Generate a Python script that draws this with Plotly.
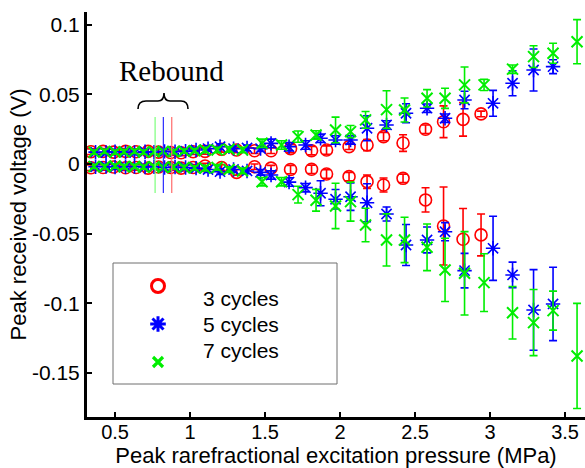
import plotly.graph_objects as go

# ---------------- data ----------------
red_p = [0.34, 0.42, 0.49, 0.57, 0.64, 0.72, 0.79, 0.87, 0.94, 1.02, 1.10, 1.21, 1.31,
         1.43, 1.54, 1.67, 1.81, 1.91, 2.06, 2.18, 2.29, 2.42, 2.57, 2.69, 2.82, 2.94]
red_up = [0.0088, 0.0090, 0.0085, 0.0090, 0.0088, 0.0090, 0.0085, 0.0082, 0.0080, 0.0088,
          0.0090, 0.0105, 0.0100, 0.0095, 0.0095, 0.0110, 0.0095, 0.0100, 0.0124, 0.0136,
          0.0196, 0.0150, 0.0249, 0.0303, 0.0320, 0.0359]
red_up_err = [0.002, 0.002, 0.002, 0.002, 0.002, 0.002, 0.002, 0.002, 0.002, 0.002,
              0.002, 0.002, 0.002, 0.002, 0.002, 0.003, 0.003, 0.003, 0.002, 0.004,
              0.003, 0.006, 0.003, 0.0114, 0.012, 0.002]
red_lo = [-0.0027, -0.0025, -0.0022, -0.0027, -0.0025, -0.0030, -0.0022, -0.0025, -0.0030,
          -0.0025, -0.0015, -0.0025, -0.0060, -0.0020, -0.0030, -0.0040, -0.0038, -0.0072,
          -0.0091, -0.0127, -0.0151, -0.0103, -0.0258, -0.0445, -0.0540, -0.0509]
red_lo_err = [0.002, 0.002, 0.002, 0.002, 0.002, 0.002, 0.002, 0.002, 0.002, 0.002,
              0.002, 0.002, 0.002, 0.002, 0.002, 0.003, 0.003, 0.003, 0.003, 0.0048,
              0.005, 0.003, 0.0087, 0.028, 0.022, 0.015]

blue_p = [0.37, 0.44, 0.50, 0.57, 0.63, 0.70, 0.76, 0.83, 0.90, 0.97, 1.04, 1.12, 1.20,
          1.29, 1.38, 1.47, 1.54, 1.66, 1.77, 1.87, 1.97, 2.07, 2.18, 2.31, 2.44, 2.58,
          2.70, 2.83, 3.02, 3.15, 3.29, 3.42]
blue_up = [0.0085, 0.0082, 0.0088, 0.0085, 0.0082, 0.0088, 0.0085, 0.0090, 0.0088, 0.0092,
           0.0100, 0.0110, 0.0124, 0.0110, 0.0115, 0.0110, 0.0148, 0.0124, 0.0136, 0.0184,
           0.0172, 0.0172, 0.0256, 0.0280, 0.0364, 0.0400, 0.0328, 0.0459, 0.0435, 0.0579,
           0.0674, 0.0698]
blue_up_err = [0.0015, 0.0015, 0.0015, 0.0015, 0.0015, 0.0015, 0.0015, 0.0015, 0.0015,
               0.0015, 0.0015, 0.002, 0.002, 0.002, 0.002, 0.002, 0.003, 0.003, 0.003,
               0.003, 0.003, 0.003, 0.009, 0.003, 0.0068, 0.003, 0.003, 0.0063, 0.0093,
               0.009, 0.0151, 0.005]
blue_lo = [-0.0020, -0.0018, -0.0022, -0.0020, -0.0018, -0.0022, -0.0020, -0.0025, -0.0022,
           -0.0025, -0.0030, -0.0040, -0.0055, -0.0040, -0.0050, -0.0060, -0.0079, -0.0130,
           -0.0170, -0.0210, -0.0253, -0.0235, -0.0278, -0.0359, -0.0581, -0.0545, -0.0486,
           -0.0765, -0.0605, -0.0796, -0.1047, -0.1004]
blue_lo_err = [0.0015, 0.0015, 0.0015, 0.0015, 0.0015, 0.0015, 0.0015, 0.0015, 0.0015,
               0.0015, 0.0015, 0.002, 0.002, 0.002, 0.002, 0.002, 0.003, 0.003, 0.003,
               0.009, 0.007, 0.0098, 0.0136, 0.005, 0.0147, 0.0093, 0.0065, 0.0124, 0.023,
               0.0092, 0.0289, 0.0263]

green_p = [0.36, 0.43, 0.50, 0.56, 0.63, 0.69, 0.76, 0.82, 0.89, 0.96, 1.03, 1.10, 1.18,
           1.26, 1.35, 1.48, 1.61, 1.72, 1.84, 1.97, 2.07, 2.17, 2.31, 2.43, 2.58, 2.70,
           2.83, 2.96, 3.15, 3.29, 3.42, 3.58]
green_up = [0.0085, 0.0090, 0.0085, 0.0088, 0.0090, 0.0085, 0.0088, 0.0090, 0.0088, 0.0092,
            0.0095, 0.0100, 0.0100, 0.0105, 0.0100, 0.0148, 0.0136, 0.0196, 0.0208, 0.0244,
            0.0232, 0.0316, 0.0390, 0.0387, 0.0471, 0.0471, 0.0567, 0.0567, 0.0680, 0.0770,
            0.0794, 0.0877]
green_up_err = [0.0015, 0.0015, 0.0015, 0.0015, 0.0015, 0.0015, 0.0015, 0.0015, 0.0015,
                0.0015, 0.0015, 0.002, 0.002, 0.002, 0.002, 0.003, 0.003, 0.004, 0.003,
                0.0092, 0.0044, 0.006, 0.0135, 0.0086, 0.0062, 0.0072, 0.0129, 0.004,
                0.003, 0.0078, 0.0072, 0.0158]
green_lo = [-0.0018, -0.0020, -0.0015, -0.0020, -0.0018, -0.0022, -0.0020, -0.0025, -0.0022,
            -0.0025, -0.0028, -0.0030, -0.0025, -0.0040, -0.0050, -0.0127, -0.0127, -0.0220,
            -0.0260, -0.0301, -0.0270, -0.0438, -0.0545, -0.0545, -0.0598, -0.0760, -0.0784,
            -0.0851, -0.1067, -0.1138, -0.1052, -0.1377]
green_lo_err = [0.0015, 0.0015, 0.0015, 0.0015, 0.0015, 0.0015, 0.0015, 0.0015, 0.0015,
                0.0015, 0.0015, 0.002, 0.002, 0.002, 0.002, 0.003, 0.003, 0.006, 0.0078,
                0.0163, 0.014, 0.012, 0.0187, 0.0163, 0.0167, 0.0227, 0.0299, 0.0207,
                0.0188, 0.0237, 0.014, 0.0377]

series_names = ["3 cycles", "5 cycles", "7 cycles"]
rebound_pressure = [0.878, 0.822, 0.767]      # red, blue, green rebound thresholds
rebound_span = [-0.0208, 0.0337]

x_ticks = [0.5, 1, 1.5, 2, 2.5, 3, 3.5]
x_tick_text = ["0.5", "1", "1.5", "2", "2.5", "3", "3.5"]
y_ticks = [0.1, 0.05, 0, -0.05, -0.1, -0.15]
y_tick_text = ["0.1", "0.05", "0", "-0.05", "-0.1", "-0.15"]

# ---------------- layout geometry ----------------
W, H = 585, 468
L, R, T, B = 87, 585, 12, 417
def px(xp):
    return (xp - L) / (R - L)
def py(yp):
    return (B - yp) / (B - T)

RED, BLUE, GREEN = "#ff0000", "#0000ff", "#00ee00"
FONT = "Liberation Sans, Arial, sans-serif"

fig = go.Figure()

styles = [
    (red_p, red_up, red_up_err, red_lo, red_lo_err, RED, "circle-open", 12, 1.6),
    (blue_p, blue_up, blue_up_err, blue_lo, blue_lo_err, BLUE, "asterisk-open", 12, 1.6),
    (green_p, green_up, green_up_err, green_lo, green_lo_err, GREEN, "x-thin-open", 11, 2),
]
for (p, up, upe, lo, loe, col, sym, size, lw), name in zip(styles, series_names):
    fig.add_trace(go.Scatter(
        x=list(p) + list(p), y=list(up) + list(lo), mode="markers", name=name,
        marker=dict(symbol=sym, size=size, color=col, line=dict(color=col, width=lw)),
        error_y=dict(type="data", array=list(upe) + list(loe), visible=True,
                     color=col, thickness=1.6, width=4),
        showlegend=False, hoverinfo="skip"))

# rebound markers
for xv, col in zip(rebound_pressure, ["#ff6a6a", "#2a2aff", "#7cff7c"]):
    fig.add_shape(type="line", xref="x", yref="y", x0=xv, x1=xv,
                  y0=rebound_span[0], y1=rebound_span[1],
                  line=dict(color=col, width=1.2), layer="above")

# brace under "Rebound"
pts = [("M", 138, 109), ("Q", 138, 101, 146, 101), ("L", 158, 101),
       ("Q", 164, 101, 164, 93), ("Q", 164, 101, 170, 101), ("L", 181, 101),
       ("Q", 188, 101, 188, 109)]
path = ""
for seg in pts:
    cmd, *vals = seg
    coords = []
    for i in range(0, len(vals), 2):
        coords.append(f"{px(vals[i]):.5f},{py(vals[i+1]):.5f}")
    path += cmd + " " + " ".join(coords) + " "
fig.add_shape(type="path", xref="paper", yref="paper", path=path.strip(),
              line=dict(color="black", width=1.6))

fig.add_annotation(text="Rebound", xref="paper", yref="paper", x=px(171), y=py(71),
                   showarrow=False, xanchor="center", yanchor="middle",
                   font=dict(family="Liberation Serif, Times New Roman, serif",
                             size=29, color="black"))

# legend box
fig.add_shape(type="rect", xref="paper", yref="paper", x0=px(113), x1=px(337),
              y0=py(384), y1=py(263), line=dict(color="#6e6e6e", width=1),
              layer="below")
leg_text_y = [298, 324, 350]
leg_mark_y = [286, 324, 362]
leg_styles = [(RED, "circle-open", 13, 3), (BLUE, "asterisk-open", 13, 3),
              (GREEN, "x-thin-open", 10, 3.2)]
for name, ty, my, (col, sym, size, lw) in zip(series_names, leg_text_y, leg_mark_y, leg_styles):
    fig.add_annotation(text=name, xref="paper", yref="paper", x=px(201), y=py(ty),
                       showarrow=False, xanchor="left", yanchor="middle",
                       font=dict(family=FONT, size=21, color="black"))
    fig.add_trace(go.Scatter(x=[px(158)], y=[py(my)], xaxis="x2", yaxis="y2",
                             mode="markers", showlegend=False, hoverinfo="skip",
                             marker=dict(symbol=sym, size=size, color=col,
                                         line=dict(color=col, width=lw))))

fig.update_layout(
    width=W, height=H, margin=dict(l=L, r=W - R, t=T, b=H - B, autoexpand=False),
    paper_bgcolor="white", plot_bgcolor="white", showlegend=False,
    font=dict(family=FONT, color="black"),
    xaxis=dict(range=[0.313, 3.633], tickvals=x_ticks, ticktext=x_tick_text,
               ticks="inside", ticklen=5, tickwidth=2, tickcolor="black",
               ticklabelstandoff=-5,
               showline=True, linewidth=3, linecolor="black", showgrid=False,
               zeroline=False, tickfont=dict(size=20, family=FONT, color="black"),
               title=dict(text="Peak rarefractional excitation pressure (MPa)",
                          font=dict(size=22, family=FONT, color="black"), standoff=0)),
    yaxis=dict(range=[-0.1815, 0.109], tickvals=y_ticks, ticktext=y_tick_text,
               ticks="inside", ticklen=5, tickwidth=2, tickcolor="black",
               showline=True, linewidth=3, linecolor="black", showgrid=False,
               zeroline=False, tickfont=dict(size=21, family=FONT, color="black"),
               title=dict(text="Peak received voltage (V)",
                          font=dict(size=22, family=FONT, color="black"), standoff=0)),
    xaxis2=dict(domain=[0, 1], range=[0, 1], overlaying="x", visible=False,
                fixedrange=True),
    yaxis2=dict(domain=[0, 1], range=[0, 1], overlaying="y", visible=False,
                fixedrange=True, anchor="x2"),
)

fig.write_html("out.html", config={"displayModeBar": False},
               post_script="document.body.style.margin='0px';document.body.style.padding='0px';")
